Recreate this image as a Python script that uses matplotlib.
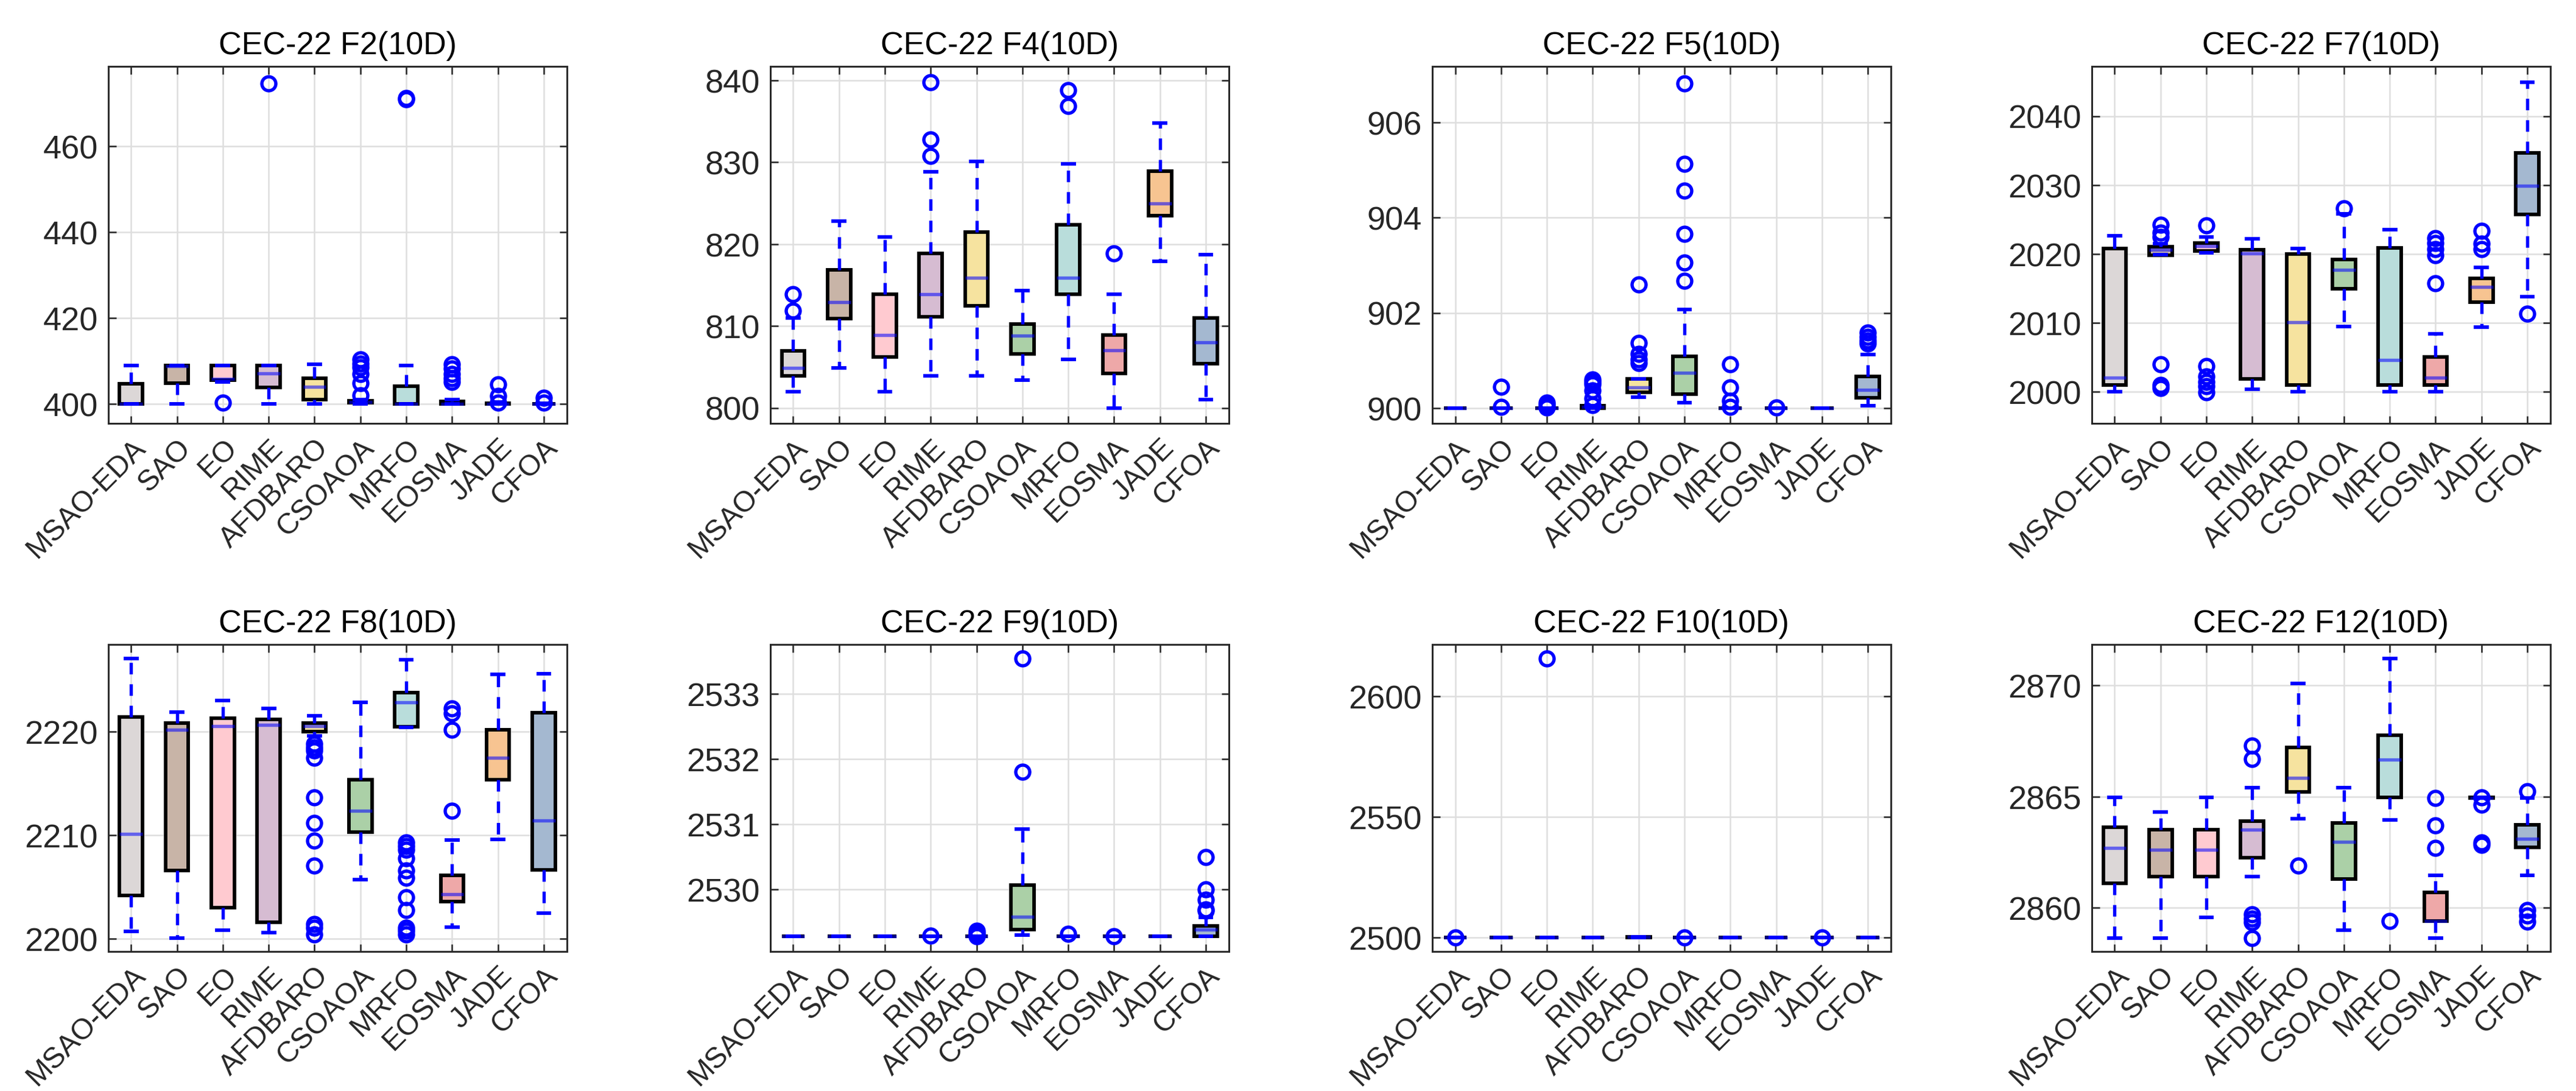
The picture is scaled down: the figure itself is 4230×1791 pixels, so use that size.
import matplotlib.pyplot as plt
import numpy as np

plt.rcParams['font.family'] = ['Liberation Sans', 'DejaVu Sans']

algorithms = ['MSAO-EDA', 'SAO', 'EO', 'RIME', 'AFDBARO',
              'CSOAOA', 'MRFO', 'EOSMA', 'JADE', 'CFOA']

box_colors = ['#dcd7d7', '#c8b4a7', '#ffcad0', '#d6bcd2', '#f6e39f',
              '#abd0a7', '#b9dddb', '#eea8a8', '#f7c491', '#a4b8d0']

# (whisker low, q1, median, q3, whisker high) per algorithm
f2_stats = [(400.0, 400.0, 400.1, 404.7, 409.0),
            (400.0, 404.9, 408.8, 409.0, 409.0),
            (405.1, 405.6, 405.8, 409.0, 409.0),
            (400.0, 403.9, 407.1, 409.0, 409.0),
            (400.0, 401.0, 404.0, 406.0, 409.2),
            (400.0, 400.3, 400.5, 400.8, 401.0),
            (400.0, 400.0, 400.1, 404.1, 409.0),
            (400.0, 400.0, 400.1, 400.6, 401.0),
            (400.0, 400.0, 400.1, 400.2, 400.4),
            (400.0, 400.0, 400.05, 400.1, 400.2)]
f2_out = [[], [], [400.3], [474.5], [],
          [410.4, 409.4, 408.5, 407.0, 404.8, 402.0],
          [471.2, 470.9],
          [409.2, 408.2, 407.0, 406.0, 405.1],
          [404.6, 401.9, 400.3],
          [401.4, 400.3]]

f4_stats = [(802.0, 803.9, 804.9, 806.95, 811.0),
            (804.9, 810.9, 812.9, 816.85, 822.8),
            (802.0, 806.2, 808.9, 813.9, 820.9),
            (803.9, 811.1, 813.9, 818.9, 828.8),
            (803.9, 812.5, 815.9, 821.5, 830.1),
            (803.4, 806.6, 808.8, 810.2, 814.3),
            (805.9, 813.9, 815.9, 822.4, 829.8),
            (800.0, 804.2, 807.0, 808.9, 813.9),
            (817.9, 823.5, 825.0, 828.9, 834.8),
            (801.0, 805.4, 808.0, 811.0, 818.7)]
f4_out = [[813.9, 811.9], [], [], [830.8, 832.8, 839.8], [],
          [], [838.8, 836.9], [818.9], [], []]

f5_stats = [(900.0, 900.0, 900.0, 900.0, 900.0),
            (900.0, 900.0, 900.0, 900.0, 900.0),
            (900.0, 900.0, 900.0, 900.0, 900.0),
            (900.0, 900.0, 900.02, 900.05, 900.05),
            (900.23, 900.33, 900.44, 900.61, 900.61),
            (900.11, 900.29, 900.74, 901.09, 902.07),
            (900.0, 900.0, 900.0, 900.0, 900.0),
            (900.0, 900.0, 900.0, 900.0, 900.0),
            (900.0, 900.0, 900.0, 900.0, 900.0),
            (900.05, 900.22, 900.39, 900.66, 901.12)]
f5_out = [[], [900.45, 900.02], [900.12, 900.06, 900.01],
          [900.6, 900.55, 900.5, 900.37, 900.2, 900.07],
          [902.59, 901.37, 901.14, 901.02, 900.95],
          [906.81, 905.13, 904.56, 903.65, 903.06, 902.67],
          [900.92, 900.44, 900.16, 900.03],
          [900.01], [],
          [901.58, 901.5, 901.42, 901.35]]

f7_stats = [(2000.0, 2001.0, 2002.0, 2020.8, 2022.65),
            (2019.9, 2019.8, 2020.6, 2021.0, 2021.5),
            (2020.2, 2020.4, 2021.1, 2021.6, 2022.5),
            (2000.4, 2001.9, 2020.1, 2020.6, 2022.2),
            (2000.0, 2001.0, 2010.1, 2020.0, 2020.8),
            (2009.5, 2014.9, 2017.65, 2019.2, 2025.8),
            (2000.0, 2001.0, 2004.6, 2020.9, 2023.55),
            (2000.0, 2001.0, 2002.0, 2005.0, 2008.4),
            (2009.4, 2013.0, 2015.2, 2016.45, 2018.0),
            (2013.8, 2025.7, 2029.9, 2034.7, 2044.9)]
f7_out = [[], [2024.2, 2023.1, 2022.5, 2004.0, 2001.0, 2000.5],
          [2024.1, 2003.7, 2002.2, 2001.4, 2000.8, 1999.9],
          [], [], [2026.6], [],
          [2022.3, 2021.6, 2020.7, 2019.8, 2015.7],
          [2023.3, 2021.5, 2020.7],
          [2011.3]]

f8_stats = [(2200.7, 2204.2, 2210.15, 2221.43, 2227.05),
            (2200.05, 2206.6, 2220.2, 2220.8, 2221.9),
            (2200.85, 2203.0, 2220.5, 2221.3, 2223.0),
            (2200.6, 2201.6, 2220.65, 2221.15, 2222.25),
            (2219.6, 2220.0, 2220.5, 2220.8, 2221.55),
            (2205.7, 2210.3, 2212.35, 2215.35, 2222.85),
            (2220.4, 2220.45, 2222.85, 2223.75, 2226.95),
            (2201.15, 2203.6, 2204.3, 2206.1, 2209.55),
            (2209.6, 2215.35, 2217.45, 2220.15, 2225.5),
            (2202.5, 2206.65, 2211.4, 2221.85, 2225.6)]
f8_out = [[], [], [], [],
          [2218.85, 2218.5, 2218.2, 2217.5, 2213.65, 2211.2, 2209.5,
           2207.05, 2201.45, 2201.1, 2200.45],
          [],
          [2209.3, 2208.95, 2208.6, 2207.75, 2206.6, 2205.9, 2204.0,
           2202.75, 2201.1, 2200.8, 2200.45],
          [2222.25, 2221.75, 2220.2, 2212.35],
          [], []]

f9_stats = [(2529.28, 2529.28, 2529.28, 2529.28, 2529.28),
            (2529.28, 2529.28, 2529.28, 2529.28, 2529.28),
            (2529.28, 2529.28, 2529.28, 2529.28, 2529.28),
            (2529.28, 2529.28, 2529.28, 2529.28, 2529.28),
            (2529.28, 2529.28, 2529.28, 2529.28, 2529.28),
            (2529.30, 2529.38, 2529.58, 2530.07, 2530.93),
            (2529.28, 2529.28, 2529.28, 2529.28, 2529.28),
            (2529.28, 2529.28, 2529.28, 2529.28, 2529.28),
            (2529.28, 2529.28, 2529.28, 2529.28, 2529.28),
            (2529.28, 2529.28, 2529.38, 2529.44, 2529.57)]
f9_out = [[], [], [], [2529.29],
          [2529.36, 2529.33, 2529.3, 2529.28],
          [2531.81, 2533.55], [2529.32], [2529.28], [],
          [2530.5, 2530.0, 2529.84, 2529.69, 2529.67]]

f10_stats = [(2500.0, 2500.0, 2500.0, 2500.0, 2500.0),
             (2500.0, 2500.0, 2500.0, 2500.0, 2500.0),
             (2500.0, 2500.0, 2500.0, 2500.0, 2500.0),
             (2500.0, 2500.0, 2500.0, 2500.0, 2500.0),
             (2500.2, 2500.2, 2500.3, 2500.3, 2500.4),
             (2500.0, 2500.0, 2500.0, 2500.0, 2500.0),
             (2500.0, 2500.0, 2500.1, 2500.1, 2500.1),
             (2500.0, 2500.0, 2500.0, 2500.0, 2500.0),
             (2500.0, 2500.0, 2500.0, 2500.0, 2500.0),
             (2500.0, 2500.0, 2500.0, 2500.0, 2500.0)]
f10_out = [[2500.1], [], [2615.7], [], [], [2500.2], [], [], [2500.1], []]

f12_stats = [(2858.63, 2861.1, 2862.7, 2863.62, 2864.96),
             (2858.63, 2861.4, 2862.6, 2863.5, 2864.3),
             (2859.57, 2861.4, 2862.6, 2863.5, 2864.96),
             (2861.4, 2862.26, 2863.5, 2863.9, 2865.4),
             (2864.0, 2865.2, 2865.83, 2867.2, 2870.1),
             (2859.0, 2861.3, 2862.97, 2863.8, 2865.4),
             (2863.96, 2864.96, 2866.66, 2867.75, 2871.2),
             (2858.63, 2859.4, 2859.4, 2860.7, 2861.46),
             (2864.93, 2864.93, 2864.95, 2864.97, 2864.97),
             (2861.46, 2862.73, 2863.1, 2863.74, 2864.93)]
f12_out = [[], [], [],
           [2867.3, 2866.7, 2859.7, 2859.5, 2859.35, 2858.63],
           [2861.9], [], [2859.4],
           [2864.93, 2863.7, 2862.7],
           [2864.96, 2864.64, 2862.94, 2862.83],
           [2865.25, 2859.9, 2859.65, 2859.37]]

panels = [('CEC-22 F2(10D)', f2_stats, f2_out, (395.5, 478.5), [400, 420, 440, 460]),
          ('CEC-22 F4(10D)', f4_stats, f4_out, (798.1, 841.7), [800, 810, 820, 830, 840]),
          ('CEC-22 F5(10D)', f5_stats, f5_out, (899.68, 907.17), [900, 902, 904, 906]),
          ('CEC-22 F7(10D)', f7_stats, f7_out, (1995.4, 2047.2), [2000, 2010, 2020, 2030, 2040]),
          ('CEC-22 F8(10D)', f8_stats, f8_out, (2198.8, 2228.4), [2200, 2210, 2220]),
          ('CEC-22 F9(10D)', f9_stats, f9_out, (2529.05, 2533.76), [2530, 2531, 2532, 2533]),
          ('CEC-22 F10(10D)', f10_stats, f10_out, (2494.4, 2621.5), [2500, 2550, 2600]),
          ('CEC-22 F12(10D)', f12_stats, f12_out, (2858.04, 2871.84), [2860, 2865, 2870])]

fig = plt.figure(figsize=(14.1, 5.973), dpi=300)

lefts = [0.042, 0.299, 0.556, 0.812]
rows = [(0.6116, 0.327), (0.128, 0.281)]

for k, (title, stats, outs, ylim, yticks) in enumerate(panels):
    bottom, height = rows[k // 4]
    ax = fig.add_axes([lefts[k % 4], bottom, 0.178, height])
    bstats = []
    for (lo, q1, med, q3, hi), fl in zip(stats, outs):
        bstats.append(dict(whislo=lo, q1=q1, med=med, q3=q3, whishi=hi, fliers=fl))
    pos = np.arange(1, len(algorithms) + 1)
    res = ax.bxp(bstats, positions=pos, widths=0.5, capwidths=0.25,
                 patch_artist=True, showfliers=True,
                 boxprops=dict(edgecolor='black', linewidth=1.4),
                 whiskerprops=dict(color='blue', linestyle=(0, (3.5, 3)), linewidth=1.3),
                 capprops=dict(color='blue', linewidth=1.4),
                 medianprops=dict(color='blue', linewidth=1.3, alpha=0.55),
                 flierprops=dict(marker='o', markerfacecolor='none',
                                 markeredgecolor='blue', markersize=5.5,
                                 markeredgewidth=1.3))
    for patch, c in zip(res['boxes'], box_colors):
        patch.set_facecolor(c)
    for m in res['medians']:
        m.set_zorder(3)

    ax.set_xlim(0.5, 10.5)
    ax.set_ylim(*ylim)
    ax.set_yticks(yticks)
    ax.set_xticks(pos)
    ax.set_xticklabels(algorithms, rotation=45, ha='right', va='top',
                       rotation_mode='anchor')
    ax.tick_params(direction='in', top=True, right=True, length=3, width=0.6,
                   labelsize=11.5, colors='#262626', pad=4)
    ax.tick_params(axis='y', labelsize=13)
    ax.grid(True, color='#dedede', linewidth=0.6)
    ax.set_axisbelow(True)
    for s in ax.spines.values():
        s.set_color('#262626')
        s.set_linewidth(0.7)
    ax.set_title(title, fontsize=12.5, color='black', pad=5)

fig.savefig('out.png', dpi=300)
